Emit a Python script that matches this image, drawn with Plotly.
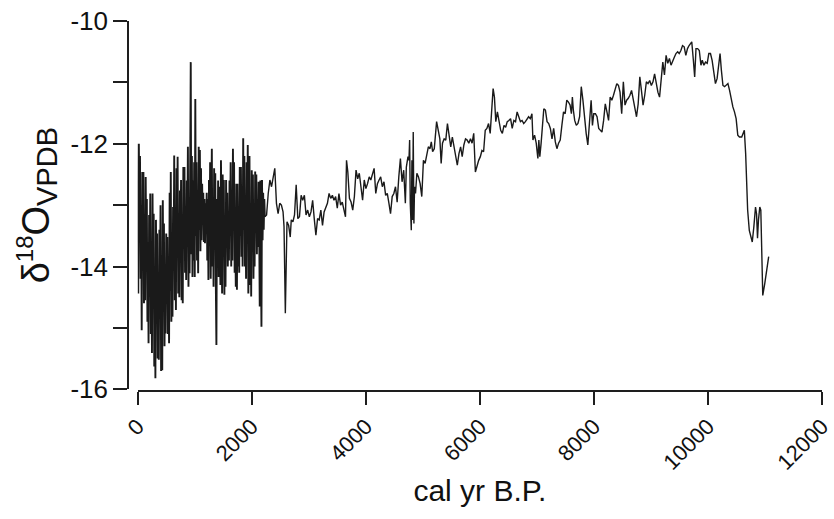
import plotly.graph_objects as go

# ---- dense, high-resolution late-Holocene part (cal yr B.P., d18O) ----
dense_age = [
    -50, -40, -30, -20, -10, 0, 10, 20, 30, 40,
    50, 60, 70, 80, 90, 100, 110, 120, 130, 140,
    150, 160, 170, 180, 190, 200, 210, 220, 230, 240,
    250, 260, 270, 280, 290, 300, 310, 320, 330, 340,
    350, 360, 370, 380, 390, 400, 410, 420, 430, 440,
    450, 460, 470, 480, 490, 500, 510, 520, 530, 540,
    550, 560, 570, 580, 590, 600, 610, 620, 630, 640,
    650, 660, 670, 680, 690, 700, 710, 720, 730, 740,
    750, 760, 770, 780, 790, 800, 810, 820, 830, 840,
    850, 860, 870, 880, 890, 900, 910, 920, 930, 940,
    950, 960, 970, 980, 990, 1000, 1010, 1020, 1030, 1040,
    1050, 1060, 1070, 1080, 1090, 1100, 1110, 1120, 1130, 1140,
    1150, 1160, 1170, 1180, 1190, 1200, 1210, 1220, 1230, 1240,
    1250, 1260, 1270, 1280, 1290, 1300, 1310, 1320, 1330, 1340,
    1350, 1360, 1370, 1380, 1390, 1400, 1410, 1420, 1430, 1440,
    1450, 1460, 1470, 1480, 1490, 1500, 1510, 1520, 1530, 1540,
    1550, 1560, 1570, 1580, 1590, 1600, 1610, 1620, 1630, 1640,
    1650, 1660, 1670, 1680, 1690, 1700, 1710, 1720, 1730, 1740,
    1750, 1760, 1770, 1780, 1790, 1800, 1810, 1820, 1830, 1840,
    1850, 1860, 1870, 1880, 1890, 1900, 1910, 1920, 1930, 1940,
    1950, 1960, 1970, 1980, 1990, 2000, 2010, 2020, 2030, 2040,
    2050, 2060, 2070, 2080, 2090, 2100, 2110, 2120, 2130, 2140,
    2150, 2160, 2170, 2180, 2190, 2200, 2210, 2220, 2230,
]
dense_d18o = [
    -11.67, -13.1, -12.4, -12.0, -13.6, -12.8, -14.44, -12.0, -13.3, -12.2,
    -14.2, -13.0, -15.04, -12.46, -13.8, -12.46, -14.6, -13.2, -14.55, -12.54,
    -13.9, -12.9, -14.9, -13.6, -15.25, -13.16, -14.3, -12.81, -15.1, -13.7,
    -15.41, -12.81, -14.5, -13.14, -15.63, -14.0, -15.82, -13.24, -14.8, -13.46,
    -15.5, -14.2, -15.52, -13.4, -14.6, -13.0, -15.7, -14.1, -15.69, -12.92,
    -14.5, -13.3, -15.3, -14.0, -15.09, -13.46, -14.6, -13.52, -15.1, -14.2,
    -15.25, -12.8, -14.4, -12.46, -14.9, -13.6, -14.82, -13.03, -14.0, -12.19,
    -14.55, -13.3, -14.71, -12.4, -13.8, -12.21, -14.44, -13.2, -14.5, -12.76,
    -13.9, -12.59, -14.55, -13.4, -14.6, -12.38, -13.7, -12.38, -14.1, -13.2,
    -14.22, -12.6, -13.5, -12.05, -14.33, -13.1, -14.11, -12.27, -10.67, -13.8,
    -12.2, -14.17, -12.6, -13.9, -12.3, -14.17, -11.27, -13.5, -12.3, -13.9,
    -12.8, -14.11, -12.05, -13.4, -12.1, -13.75, -12.4, -13.57, -12.65, -13.3,
    -12.8, -13.6, -12.9, -13.62, -12.97, -13.4, -12.8, -13.9, -12.9, -14.22,
    -12.59, -13.6, -12.3, -14.2, -12.9, -12.08, -14.0, -13.1, -14.33, -12.4,
    -13.6, -12.48, -14.3, -15.28, -12.9, -14.0, -12.6, -14.17, -12.70, -13.5,
    -14.3, -12.27, -13.4, -14.44, -12.5, -13.7, -12.59, -14.46, -13.2, -14.33,
    -12.59, -13.6, -12.8, -14.0, -13.1, -13.9, -12.6, -13.5, -12.3, -14.0,
    -13.0, -13.9, -12.08, -13.3, -12.3, -14.1, -13.2, -14.33, -12.65, -14.38,
    -12.65, -14.0, -13.1, -14.1, -12.38, -13.5, -12.38, -13.84, -12.9, -14.0,
    -11.91, -13.4, -12.2, -14.0, -13.0, -14.2, -12.3, -13.6, -12.02, -14.44,
    -13.2, -12.2, -14.3, -13.0, -14.49, -12.43, -13.6, -12.5, -14.2, -13.1,
    -14.0, -12.45, -13.4, -12.5, -13.8, -12.9, -13.68, -12.62, -13.3, -14.65,
    -12.6, -13.4, -14.98, -12.59, -13.57, -12.8, -13.4, -12.9, -13.19,
]

# ---- lower-resolution early/mid-Holocene part ----
sparse_age = [
    2260, 2289, 2318, 2347, 2376, 2404, 2433, 2462, 2491, 2520,
    2549, 2566, 2589, 2618, 2647, 2675, 2693, 2722, 2750, 2779,
    2808, 2837, 2866, 2894, 2923, 2952, 2981, 3010, 3039, 3068,
    3096, 3125, 3154, 3183, 3212, 3241, 3269, 3298, 3327, 3356,
    3385, 3414, 3442, 3471, 3500, 3529, 3558, 3587, 3615, 3644,
    3662, 3685, 3713, 3742, 3771, 3800, 3829, 3858, 3886, 3915,
    3944, 3973, 4002, 4031, 4060, 4088, 4117, 4146, 4175, 4204,
    4233, 4261, 4290, 4319, 4348, 4377, 4406, 4434, 4463, 4492,
    4521, 4550, 4579, 4607, 4636, 4665, 4694, 4711, 4740, 4757,
    4769, 4780, 4798, 4809, 4821, 4832, 4844, 4855, 4872, 4896,
    4924, 4953, 4982, 5011, 5040, 5069, 5097, 5126, 5149, 5172,
    5201, 5242, 5270, 5299, 5322, 5345, 5374, 5403, 5432, 5461,
    5490, 5518, 5547, 5576, 5605, 5634, 5663, 5691, 5720, 5749,
    5778, 5807, 5836, 5864, 5893, 5922, 5951, 5980, 6009, 6037,
    6066, 6095, 6124, 6153, 6182, 6210, 6233, 6256, 6280, 6308,
    6337, 6366, 6395, 6424, 6453, 6481, 6510, 6539, 6568, 6597,
    6626, 6654, 6683, 6712, 6741, 6770, 6799, 6827, 6856, 6885,
    6914, 6931, 6960, 6989, 7018, 7035, 7052, 7075, 7104, 7122,
    7150, 7179, 7208, 7237, 7266, 7295, 7324, 7352, 7381, 7410,
    7439, 7468, 7497, 7525, 7554, 7583, 7606, 7623, 7640, 7664,
    7692, 7721, 7750, 7779, 7808, 7837, 7865, 7894, 7923, 7952,
    7975, 7998, 8027, 8056, 8085, 8113, 8142, 8171, 8200, 8229,
    8258, 8286, 8315, 8344, 8373, 8402, 8431, 8459, 8488, 8517,
    8546, 8575, 8604, 8632, 8661, 8690, 8719, 8748, 8777, 8806,
    8834, 8863, 8892, 8921, 8950, 8979, 9008, 9037, 9065, 9094,
    9123, 9152, 9181, 9209, 9238, 9267, 9296, 9325, 9353, 9382,
    9411, 9440, 9469, 9497, 9526, 9555, 9584, 9613, 9642, 9670,
    9699, 9717, 9745, 9768, 9791, 9820, 9849, 9878, 9901, 9930,
    9959, 9988, 10016, 10045, 10074, 10103, 10132, 10161, 10190, 10213,
    10236, 10264, 10293, 10322, 10351, 10380, 10409, 10438, 10466, 10495,
    10524, 10553, 10593, 10620, 10639, 10662, 10680, 10697, 10726, 10754,
    10778, 10806, 10835, 10853, 10870, 10887, 10910, 10928, 10945, 10962,
    10997, 11031, 11066,
]
sparse_d18o = [
    -13.16, -12.81, -12.59, -12.70, -12.54, -12.40, -12.97, -13.14, -12.97, -13.00,
    -13.11, -13.35, -14.76, -13.27, -13.33, -13.52, -13.24, -13.27, -13.16, -12.67,
    -13.22, -13.19, -12.84, -12.92, -12.84, -13.16, -13.08, -13.19, -13.11, -12.92,
    -13.22, -13.49, -13.22, -13.24, -13.08, -13.33, -13.11, -13.05, -12.97, -12.81,
    -12.89, -12.84, -12.92, -12.86, -13.05, -12.81, -13.00, -12.95, -13.05, -13.19,
    -12.27, -12.46, -12.89, -12.95, -13.08, -12.86, -12.43, -12.57, -12.48, -12.76,
    -12.92, -12.59, -12.73, -12.65, -12.54, -12.59, -12.51, -12.40, -12.81, -12.65,
    -12.59, -12.54, -12.70, -12.62, -12.84, -12.81, -12.97, -13.14, -12.86, -12.81,
    -12.70, -12.95, -12.54, -12.24, -12.62, -12.43, -12.97, -12.38, -12.21, -12.27,
    -11.94, -12.97, -13.41, -12.27, -13.24, -11.81, -13.30, -12.70, -12.81, -12.48,
    -12.54, -12.65, -12.86, -12.27, -12.32, -12.16, -12.05, -12.08, -11.97, -12.13,
    -12.08, -11.64, -11.81, -11.92, -12.32, -11.99, -11.92, -11.94, -11.67, -11.86,
    -12.05, -11.89, -12.05, -12.21, -12.35, -12.16, -12.05, -12.21, -12.02, -11.92,
    -11.94, -11.99, -11.92, -11.99, -11.83, -12.46, -12.35, -12.27, -12.21, -12.11,
    -12.13, -11.78, -11.75, -11.67, -11.83, -11.29, -11.10, -11.24, -11.64, -11.48,
    -11.67, -11.78, -11.83, -11.70, -11.73, -11.64, -11.62, -11.59, -11.75, -11.62,
    -11.64, -11.48, -11.56, -11.64, -11.62, -11.67, -11.64, -11.59, -11.56, -11.59,
    -11.51, -11.94, -11.86, -11.99, -12.24, -11.94, -12.21, -11.99, -11.67, -11.43,
    -11.45, -11.64, -11.67, -11.75, -11.92, -11.75, -11.97, -12.08, -11.99, -11.94,
    -11.70, -11.48, -11.51, -11.29, -11.32, -11.37, -11.51, -11.24, -11.45, -11.62,
    -11.70, -11.67, -11.56, -11.07, -11.29, -11.62, -11.83, -12.02, -11.67, -11.29,
    -11.70, -11.51, -11.51, -11.56, -11.75, -11.78, -11.81, -11.62, -11.35, -11.48,
    -11.62, -11.24, -11.29, -11.21, -11.10, -11.02, -11.05, -11.16, -11.51, -10.99,
    -11.37, -11.29, -11.26, -11.21, -11.13, -11.29, -11.43, -11.56, -11.35, -10.91,
    -11.13, -11.37, -11.21, -10.99, -11.02, -10.97, -11.05, -10.99, -10.86, -11.02,
    -11.16, -11.24, -10.91, -10.67, -10.88, -10.56, -10.69, -10.61, -10.72, -10.64,
    -10.59, -10.53, -10.50, -10.53, -10.48, -10.40, -10.42, -10.56, -10.45, -10.40,
    -10.37, -10.34, -10.64, -10.91, -10.45, -10.45, -10.48, -10.72, -10.64, -10.72,
    -10.67, -10.69, -10.53, -10.53, -10.64, -10.86, -11.02, -10.94, -10.75, -10.53,
    -10.80, -11.05, -11.07, -11.05, -11.02, -11.13, -11.29, -11.40, -11.48, -11.59,
    -11.86, -11.89, -11.89, -11.83, -11.78, -12.16, -12.59, -13.08, -13.41, -13.54,
    -13.60, -13.35, -13.03, -13.14, -13.54, -13.24, -13.03, -13.08, -13.79, -14.47,
    -14.28, -14.06, -13.84,
]

x_ticks = [0, 2000, 4000, 6000, 8000, 10000, 12000]
x_ticklabels = ["0", "2000", "4000", "6000", "8000", "10000", "12000"]
y_ticks = [-16, -14, -12, -10]
y_ticklabels = ["-16", "-14", "-12", "-10"]
y_minor_ticks = [-15, -13, -11]

FONT = "Liberation Sans, Arial, Helvetica, sans-serif"
AX = "#1e1e1e"
LINE = "#1a1a1a"

fig = go.Figure()
# dense section (drawn slightly heavier so the band reads solid, as in the reference)
fig.add_trace(go.Scatter(
    x=dense_age, y=dense_d18o, mode="lines",
    line=dict(color=LINE, width=1.9),
    hoverinfo="skip", showlegend=False,
))
# remaining record, joined to the last dense sample
fig.add_trace(go.Scatter(
    x=dense_age[-1:] + sparse_age, y=dense_d18o[-1:] + sparse_d18o, mode="lines",
    line=dict(color=LINE, width=1.4),
    hoverinfo="skip", showlegend=False,
))

fig.update_layout(
    width=834, height=519,
    margin=dict(l=128, r=12, t=21, b=128),
    paper_bgcolor="white", plot_bgcolor="white",
    font=dict(family=FONT, color="#111", size=20),
    xaxis=dict(
        range=[0, 12001], domain=[0.014, 1], anchor="free", position=0,
        automargin=False,
        tickvals=x_ticks, ticktext=x_ticklabels, tickangle=-45,
        ticklabeloverflow="allow",
        ticks="outside", ticklen=13, tickwidth=1.6, tickcolor=AX,
        showline=True, linewidth=1.6, linecolor=AX,
        showgrid=False, zeroline=False,
        tickfont=dict(size=22, family=FONT, color="#111"),
        title=dict(text="cal yr B.P.", font=dict(size=30, family=FONT, color="#111"), standoff=5),
    ),
    yaxis=dict(
        range=[-16, -10], domain=[0.0046, 1], anchor="free", position=0,
        automargin=False,
        tickvals=y_ticks, ticktext=y_ticklabels,
        ticklabeloverflow="allow",
        ticks="outside", ticklen=14, tickwidth=1.6, tickcolor=AX,
        minor=dict(tickvals=y_minor_ticks, ticks="outside", ticklen=14,
                   tickwidth=1.6, tickcolor=AX, showgrid=False),
        showline=True, linewidth=1.6, linecolor=AX,
        showgrid=False, zeroline=False,
        tickfont=dict(size=26, family=FONT, color="#111"),
        title=dict(
            text="δ<sup><span style='font-size:24px'>18</span></sup>O"
                 "<sub><span style='font-size:29px'>VPDB</span></sub>",
            font=dict(size=38, family=FONT, color="#111"), standoff=8),
    ),
)

fig.write_html("out.html")
